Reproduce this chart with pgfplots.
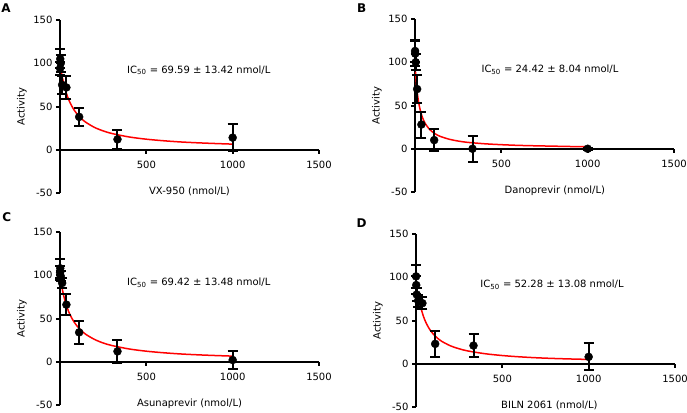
\documentclass[border=0pt]{standalone}
\usepackage{pgfplots}
\pgfplotsset{compat=1.18}
\usepackage{pgfplotstable}
\usepackage{fontspec}
\setmainfont{DejaVu Sans}

% measured points: concentration, activity, sd
\pgfplotstableread{
x     y    e
0.46  94   8
1.37  105  11
4.1   100  10
12.3  75   10
37    72   13
111   38   10
333   12   11
1000  14   15.5
}\vxdata
\pgfplotstableread{
x     y    e
0.46  113  13
1.37  110  14
4.1   100  9
12.3  69   16
37    28   15
111   10   13
333   0    15
1000  0    1
}\danodata
\pgfplotstableread{
x     y    e
0.46  103  8
1.37  108  11
4.1   99   6
12.3  91   6
37    66   12
111   34   13
333   12   13
1000  2    10.5
}\asundata
\pgfplotstableread{
x     y    e
0.46  101  13
1.37  91   10
4.1   80   8
12.3  73   7
37    70   7
111   23   15
333   21   13.5
1000  8    15.5
}\bilndata

% fitted curves
\pgfplotstableread{
x    y
8    89.7
15   82.3
20   77.7
30   69.9
40   63.5
50   58.2
60   53.7
70   49.9
80   46.5
100  41.0
125  35.8
150  31.7
200  25.8
250  21.8
300  18.8
400  14.8
500  12.2
600  10.4
700  9.0
800  8.0
900  7.2
1000 6.5
}\vxfit
\pgfplotstableread{
x    y
3    89.1
5    83.0
8    75.3
10   70.9
15   61.9
20   55.0
25   49.4
30   44.9
40   37.9
50   32.8
60   28.9
80   23.4
100  19.6
125  16.3
150  14.0
200  10.9
250  8.9
300  7.5
400  5.8
500  4.7
600  3.9
700  3.4
800  3.0
900  2.6
1000 2.4
}\danofit
\pgfplotstableread{
x    y
5    93.3
10   87.4
20   77.6
30   69.8
40   63.4
50   58.1
60   53.6
70   49.8
80   46.5
100  41.0
125  35.7
150  31.6
200  25.8
250  21.7
300  18.8
400  14.8
500  12.2
600  10.4
700  9.0
800  8.0
900  7.2
1000 6.5
}\asunfit
\pgfplotstableread{
x    y
30   63.5
40   56.7
50   51.1
60   46.6
70   42.8
80   39.5
100  34.3
125  29.5
150  25.8
200  20.7
250  17.3
300  14.8
400  11.6
500  9.5
600  8.0
700  6.9
800  6.1
900  5.5
1000 5.0
}\bilnfit

\pgfplotsset{
  panel/.style={
    scale only axis, width=259pt, height=173pt,
    xmin=0, xmax=1500, ymin=-50, ymax=150,
    axis x line*=middle, axis y line*=left,
    xtick={500,1000,1500}, ytick={-50,0,50,100,150},
    tick align=outside, major tick length=4pt,
    axis line style={line width=2pt},
    every tick/.style={black, line width=2pt},
    tick label style={font=\fontsize{10}{12}\selectfont},
    xticklabel style={yshift=-4pt},
    label style={font=\fontsize{10}{12}\selectfont},
    /pgf/number format/assume math mode=true,
    /pgf/number format/1000 sep={},
    ylabel={Activity},
    ylabel style={at={(axis description cs:-0.147,0.5)}, anchor=center},
    xlabel style={at={(axis description cs:0.5,-0.008)}, anchor=base},
    clip=false,
  },
  fit/.style={red, line width=1.5pt, no marks, smooth},
  dots/.style={only marks, mark=*, mark size=4pt, black,
    error bars/.cd, y dir=both, y explicit,
    error bar style={line width=2pt, black},
    error mark options={rotate=90, mark size=5pt, line width=2pt, black}},
}

\begin{document}
\begin{tikzpicture}
\useasboundingbox (0,0) rectangle (687pt,-412pt);

\begin{axis}[panel, at={(60pt,-193pt)}, anchor=south west, xlabel={VX-950 (nmol/L)}]
  \addplot[fit] table[x=x,y=y] {\vxfit};
  \addplot[dots] table[x=x,y=y,y error=e] {\vxdata};
  \node[anchor=west, font=\fontsize{10}{12}\selectfont] at (axis cs:369,92)
    {IC\textsubscript{50} = 69.59 ± 13.42 nmol/L};
\end{axis}

\begin{axis}[panel, at={(415pt,-192pt)}, anchor=south west, xlabel={Danoprevir (nmol/L)},
  xlabel style={at={(axis description cs:0.54,-0.008)}}]
  \addplot[fit] table[x=x,y=y] {\danofit};
  \addplot[dots] table[x=x,y=y,y error=e] {\danodata};
  \node[anchor=west, font=\fontsize{10}{12}\selectfont] at (axis cs:365,91)
    {IC\textsubscript{50} = 24.42 ± 8.04 nmol/L};
\end{axis}

\begin{axis}[panel, at={(60pt,-405pt)}, anchor=south west, xlabel={Asunaprevir (nmol/L)}]
  \addplot[fit] table[x=x,y=y] {\asunfit};
  \addplot[dots] table[x=x,y=y,y error=e] {\asundata};
  \node[anchor=west, font=\fontsize{10}{12}\selectfont] at (axis cs:369,91.5)
    {IC\textsubscript{50} = 69.42 ± 13.48 nmol/L};
\end{axis}

\begin{axis}[panel, at={(416pt,-407pt)}, anchor=south west, xlabel={BILN 2061 (nmol/L)},
  xlabel style={at={(axis description cs:0.515,-0.008)}}]
  \addplot[fit] table[x=x,y=y] {\bilnfit};
  \addplot[dots] table[x=x,y=y,y error=e] {\bilndata};
  \node[anchor=west, font=\fontsize{10}{12}\selectfont] at (axis cs:353,91)
    {IC\textsubscript{50} = 52.28 ± 13.08 nmol/L};
\end{axis}

\node[font=\bfseries\fontsize{12}{14}\selectfont] at (6pt,-8.3pt) {A};
\node[font=\bfseries\fontsize{12}{14}\selectfont] at (361.7pt,-8pt) {B};
\node[font=\bfseries\fontsize{12}{14}\selectfont] at (6.7pt,-217.5pt) {C};
\node[font=\bfseries\fontsize{12}{14}\selectfont] at (361.7pt,-223.3pt) {D};
\end{tikzpicture}
\end{document}
